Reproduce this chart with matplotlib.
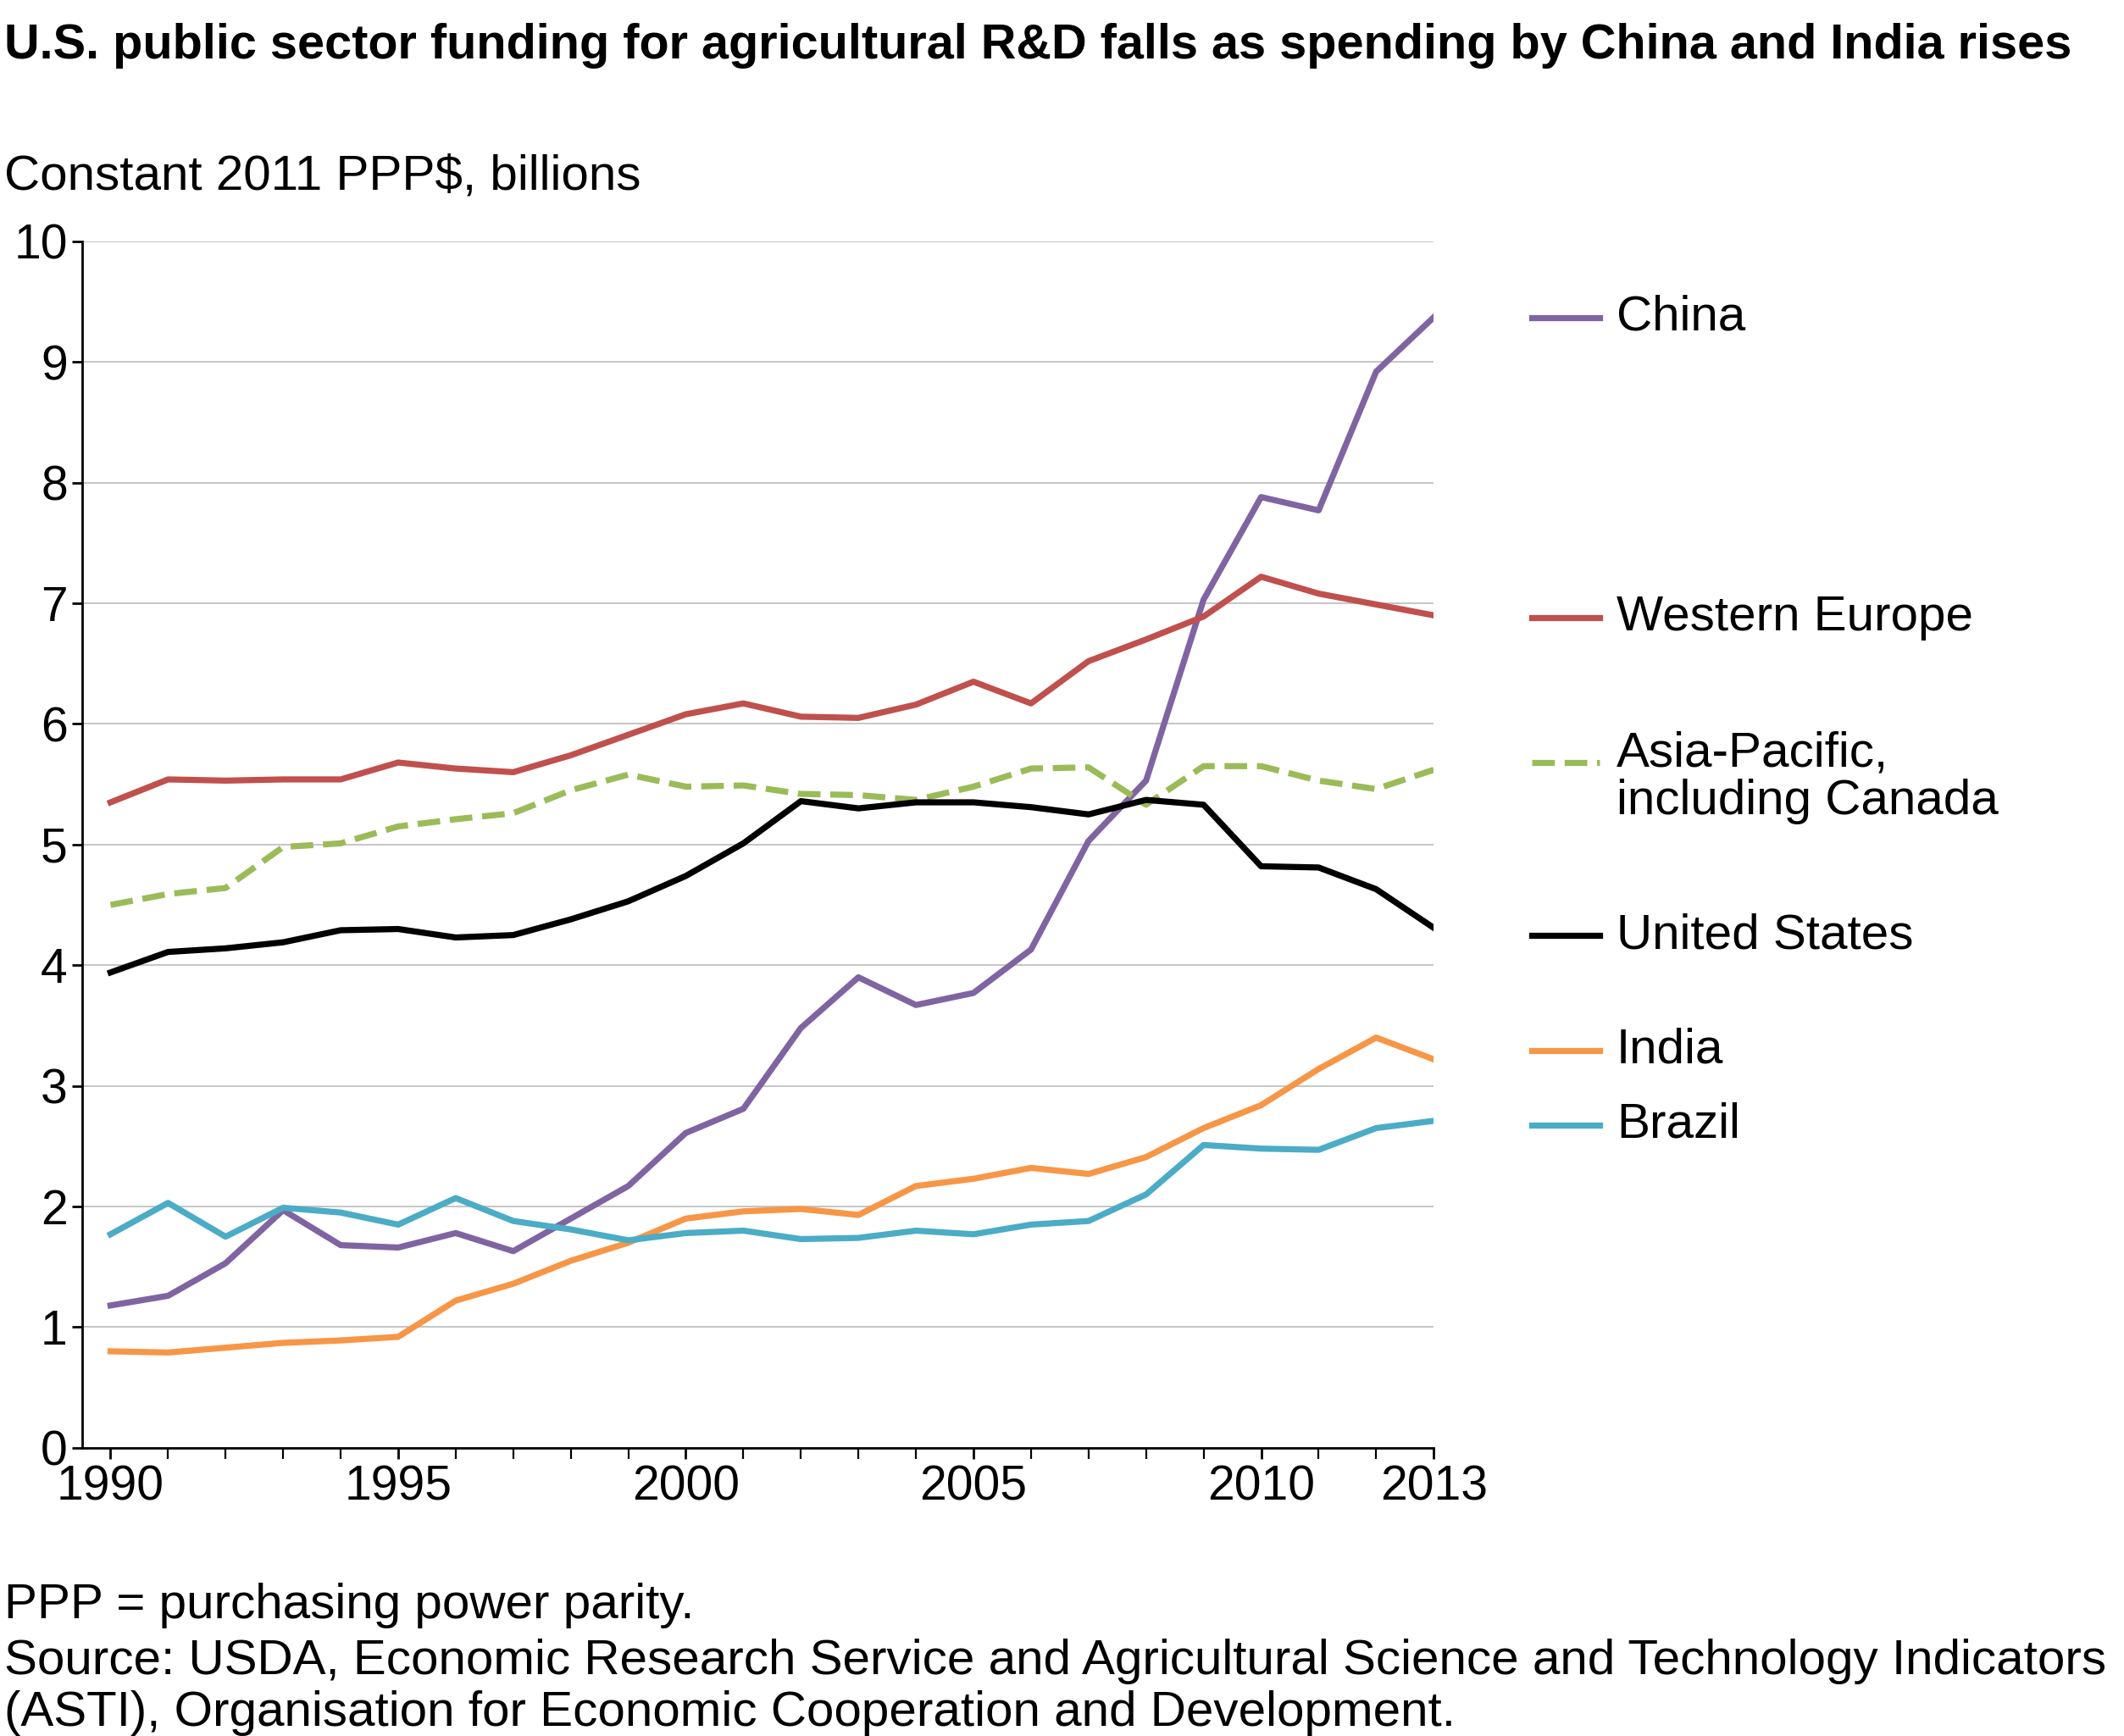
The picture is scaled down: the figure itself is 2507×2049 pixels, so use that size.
import matplotlib.pyplot as plt
from matplotlib.lines import Line2D

plt.rcParams['font.family'] = ['Liberation Sans', 'DejaVu Sans']

years = list(range(1990, 2014))
china = [1.18, 1.26, 1.53, 1.97, 1.68, 1.66, 1.78, 1.63, 1.90, 2.17, 2.61, 2.81,
         3.48, 3.90, 3.67, 3.77, 4.13, 5.03, 5.53, 7.03, 7.88, 7.77, 8.92, 9.37]
w_europe = [5.35, 5.54, 5.53, 5.54, 5.54, 5.68, 5.63, 5.60, 5.74, 5.91, 6.08, 6.17,
            6.06, 6.05, 6.16, 6.35, 6.17, 6.52, 6.70, 6.89, 7.22, 7.08, 6.99, 6.90]
asia_pac = [4.50, 4.59, 4.64, 4.98, 5.01, 5.15, 5.21, 5.26, 5.45, 5.58, 5.48, 5.49,
            5.42, 5.41, 5.37, 5.48, 5.63, 5.64, 5.33, 5.65, 5.65, 5.53, 5.46, 5.62]
usa = [3.94, 4.11, 4.14, 4.19, 4.29, 4.30, 4.23, 4.25, 4.38, 4.53, 4.74, 5.01,
       5.36, 5.30, 5.35, 5.35, 5.31, 5.25, 5.37, 5.33, 4.82, 4.81, 4.63, 4.31]
india = [0.80, 0.79, 0.83, 0.87, 0.89, 0.92, 1.22, 1.36, 1.55, 1.70, 1.90, 1.96,
         1.98, 1.93, 2.17, 2.23, 2.32, 2.27, 2.41, 2.65, 2.84, 3.14, 3.40, 3.22]
brazil = [1.77, 2.03, 1.75, 1.99, 1.95, 1.85, 2.07, 1.88, 1.81, 1.72, 1.78, 1.80,
          1.73, 1.74, 1.80, 1.77, 1.85, 1.88, 2.10, 2.51, 2.48, 2.47, 2.65, 2.71]

# (values, colour, linestyle, legend label, legend y in figure coords)
series = [
    (china, '#8064A2', '-', 'China', 0.817),
    (w_europe, '#C0504D', '-', 'Western Europe', 0.644),
    (asia_pac, '#9BBB59', '--', 'Asia-Pacific,\nincluding Canada', 0.561),
    (usa, '#000000', '-', 'United States', 0.461),
    (india, '#F79646', '-', 'India', 0.395),
    (brazil, '#4BACC6', '-', 'Brazil', 0.352),
]

fig = plt.figure(figsize=(25.07, 20.49), dpi=100)
ax = fig.add_axes([0.0385, 0.166, 0.6365, 0.695])

for vals, col, ls, lab, _ in series:
    ax.plot(years, vals, color=col, ls=ls, lw=5.2, zorder=3)

ax.set_xlim(1989.5, 2013)
ax.set_ylim(0, 10)
ax.set_yticks(range(0, 11))
ax.set_xticks([1990, 1995, 2000, 2005, 2010, 2013])
ax.set_xticks(years, minor=True)
ax.grid(axis='y', color='#BBBBBB', lw=1.2)
ax.spines[['top', 'right']].set_visible(False)
ax.spines[['left', 'bottom']].set_linewidth(2)
ax.tick_params(axis='both', labelsize=41, width=2, length=9)
ax.tick_params(axis='x', which='minor', width=1.6, length=9)
ax.tick_params(axis='y', pad=3)
ax.tick_params(axis='x', pad=5)

for vals, col, ls, lab, ly in series:
    fig.add_artist(Line2D([0.721, 0.753], [ly, ly], color=col, ls=ls, lw=5.2,
                          transform=fig.transFigure))
    if '\n' in lab:
        fig.text(0.761, ly + 0.018, lab, fontsize=42, va='top', linespacing=1.05)
    else:
        fig.text(0.761, ly, lab, fontsize=42, va='center')

fig.text(0.002, 0.987, 'U.S. public sector funding for agricultural R&D falls as spending by China and India rises',
         fontsize=41.5, fontweight='bold', va='top')
fig.text(0.002, 0.898, 'Constant 2011 PPP$, billions', fontsize=42, va='center')
fig.text(0.002, 0.075, 'PPP = purchasing power parity.', fontsize=42, va='center')
fig.text(0.002, 0.043, 'Source: USDA, Economic Research Service and Agricultural Science and Technology Indicators',
         fontsize=42, va='center')
fig.text(0.002, 0.013, '(ASTI), Organisation for Economic Cooperation and Development.',
         fontsize=42, va='center')

fig.savefig('out.png', dpi=100)
